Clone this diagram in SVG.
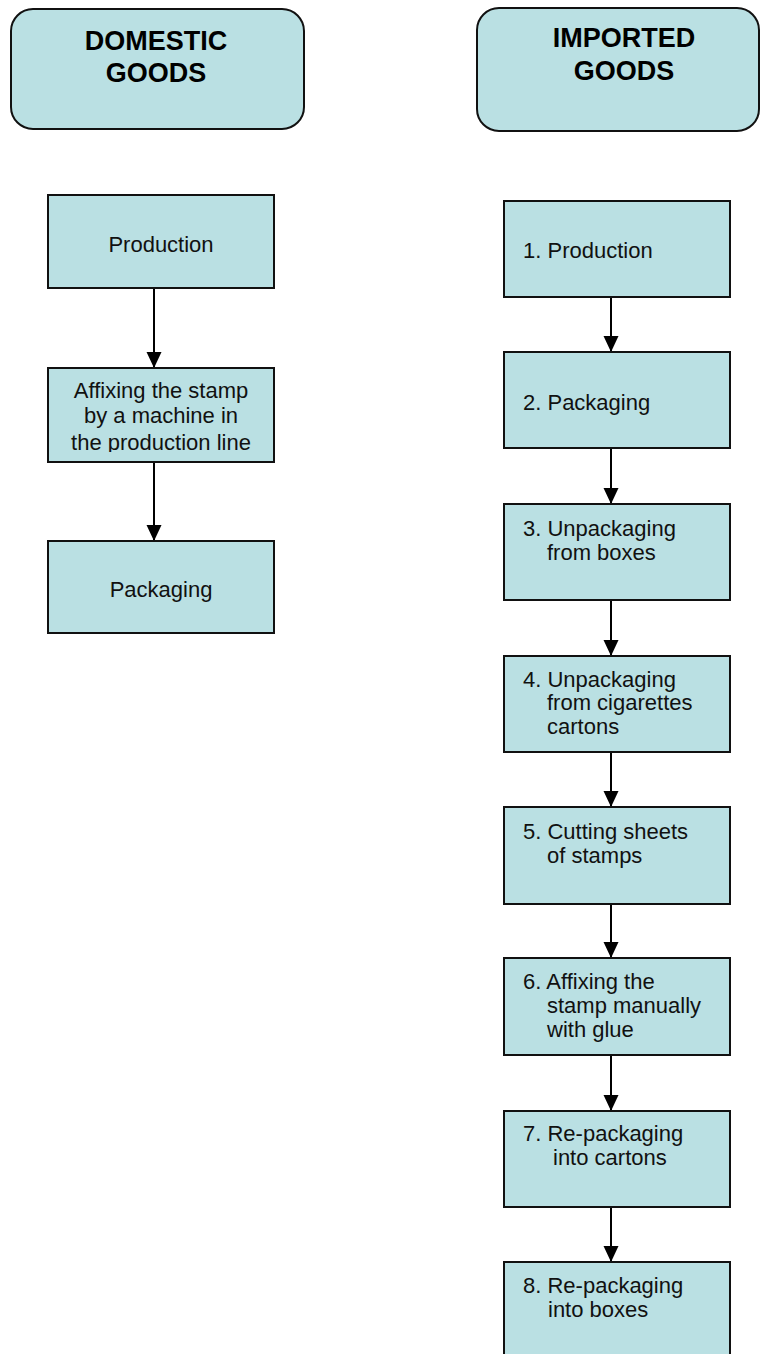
<svg xmlns="http://www.w3.org/2000/svg" width="760" height="1354" viewBox="0 0 760 1354">
<style>
.hdr{fill:#BAE0E3;stroke:#111;stroke-width:2}
.box{fill:#BAE0E3;stroke:#111;stroke-width:2}
.ht{font-family:"Liberation Sans",Arial,sans-serif;font-weight:bold;font-size:27px;fill:#000;text-anchor:middle}
.lt{font-family:"Liberation Sans",Arial,sans-serif;font-size:22px;fill:#111;text-anchor:middle}
.rt{font-family:"Liberation Sans",Arial,sans-serif;font-size:22px;fill:#111}
.con{stroke:#000;stroke-width:2;fill:none;marker-end:url(#ah)}
</style>
<defs>
<marker id="ah" markerUnits="userSpaceOnUse" markerWidth="16" markerHeight="16" refX="16" refY="7.5" orient="auto">
<path d="M0,0 L16,7.5 L0,15 z" fill="#000"/>
</marker>
<clipPath id="clipL2"><rect x="48" y="368" width="226" height="84"/></clipPath>
</defs>
<rect width="760" height="1354" fill="#fff"/>
<g id="hdr-domestic">
<rect class="hdr" x="11" y="9" width="293" height="120" rx="22"/>
<text class="ht" x="156" y="50">DOMESTIC</text>
<text class="ht" x="156" y="82">GOODS</text>
</g>
<g id="hdr-imported">
<rect class="hdr" x="477" y="8" width="282" height="123" rx="22"/>
<text class="ht" x="624" y="47">IMPORTED</text>
<text class="ht" x="624" y="80">GOODS</text>
</g>
<g id="connectors">
<line class="con" x1="154" y1="288" x2="154" y2="368"/>
<line class="con" x1="154" y1="462" x2="154" y2="541"/>
<line class="con" x1="611" y1="297" x2="611" y2="352"/>
<line class="con" x1="611" y1="448" x2="611" y2="504"/>
<line class="con" x1="611" y1="600" x2="611" y2="656"/>
<line class="con" x1="611" y1="752" x2="611" y2="807"/>
<line class="con" x1="611" y1="904" x2="611" y2="958"/>
<line class="con" x1="611" y1="1055" x2="611" y2="1111"/>
<line class="con" x1="611" y1="1207" x2="611" y2="1262"/>
</g>
<g id="d1">
<rect class="box" x="48" y="195" width="226" height="93"/>
<text class="lt" x="161" y="252">Production</text>
</g>
<g id="d2">
<rect class="box" x="48" y="368" width="226" height="94"/>
<g clip-path="url(#clipL2)">
<text class="lt" x="161" y="398">Affixing the stamp</text>
<text class="lt" x="161" y="423">by a machine in</text>
<text class="lt" x="161" y="450">the production line</text>
</g>
</g>
<g id="d3">
<rect class="box" x="48" y="541" width="226" height="92"/>
<text class="lt" x="161" y="597">Packaging</text>
</g>
<g id="i1">
<rect class="box" x="504" y="201" width="226" height="96"/>
<text class="rt" x="523" y="258">1. Production</text>
</g>
<g id="i2">
<rect class="box" x="504" y="352" width="226" height="96"/>
<text class="rt" x="523" y="410">2. Packaging</text>
</g>
<g id="i3">
<rect class="box" x="504" y="504" width="226" height="96"/>
<text class="rt" x="523" y="536">3. Unpackaging</text>
<text class="rt" x="547" y="560">from boxes</text>
</g>
<g id="i4">
<rect class="box" x="504" y="656" width="226" height="96"/>
<text class="rt" x="523" y="687">4. Unpackaging</text>
<text class="rt" x="547" y="710">from cigarettes</text>
<text class="rt" x="547" y="734">cartons</text>
</g>
<g id="i5">
<rect class="box" x="504" y="807" width="226" height="97"/>
<text class="rt" x="523" y="839">5. Cutting sheets</text>
<text class="rt" x="547" y="863">of stamps</text>
</g>
<g id="i6">
<rect class="box" x="504" y="958" width="226" height="97"/>
<text class="rt" x="523" y="989">6. Affixing the</text>
<text class="rt" x="547" y="1013">stamp manually</text>
<text class="rt" x="547" y="1037">with glue</text>
</g>
<g id="i7">
<rect class="box" x="504" y="1111" width="226" height="96"/>
<text class="rt" x="523" y="1141">7. Re-packaging</text>
<text class="rt" x="553" y="1165">into cartons</text>
</g>
<g id="i8">
<rect class="box" x="504" y="1262" width="226" height="96"/>
<text class="rt" x="523" y="1293">8. Re-packaging</text>
<text class="rt" x="548" y="1317">into boxes</text>
</g>
</svg>
